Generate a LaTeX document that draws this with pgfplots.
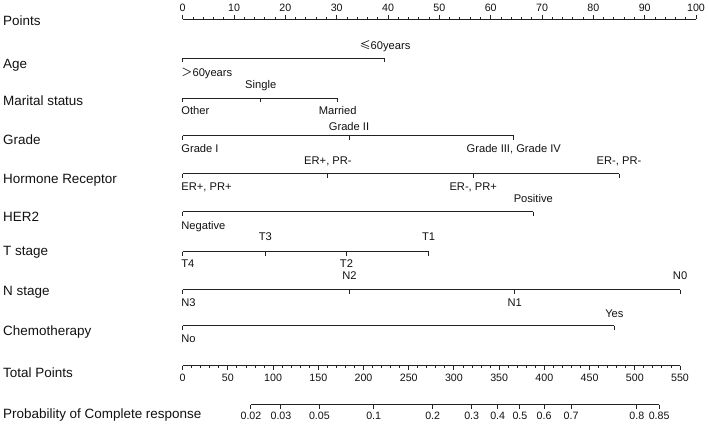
\documentclass[border=0pt]{standalone}
\usepackage{pgfplots}
\usepackage{pgfplotstable}
\pgfplotsset{compat=1.18}
\usepackage{fontspec}
\setmainfont{Liberation Sans}
\newfontfamily\cjk{Noto Sans CJK SC}
\newcommand{\lesixty}{{\cjk ≤}60years}
\newcommand{\gtsixty}{{\cjk ＞}60years}
\definecolor{tc}{HTML}{111111}
\definecolor{lc}{HTML}{222222}
\newcommand\valfont{\fontsize{11.2}{13}\selectfont}
\newcommand\tickfont{\fontsize{10.7}{12}\selectfont}
\newcommand\rowfont{\fontsize{13.5}{16}\selectfont}
\pgfdeclareplotmark{blank}{}
\pgfplotsset{
  lab/.style={scatter, only marks, mark=blank, point meta=explicit symbolic,
    scatter/@post marker code/.code={}},
  labc/.style={lab, scatter/@pre marker code/.code={\node[anchor=base, inner sep=0pt, text=tc, font=\valfont] {\pgfplotspointmeta};}},
  labl/.style={lab, scatter/@pre marker code/.code={\node[anchor=base west, inner sep=0pt, xshift=-1.5bp, text=tc, font=\valfont] {\pgfplotspointmeta};}},
  labt/.style={lab, scatter/@pre marker code/.code={\node[anchor=base, inner sep=0pt, text=tc, font=\tickfont] {\pgfplotspointmeta};}},
  labr/.style={lab, scatter/@pre marker code/.code={\node[anchor=base west, inner sep=0pt, text=tc, font=\rowfont] {\pgfplotspointmeta};}},
  ln/.style={color=lc, line width=1bp, mark=|, mark options={solid, line width=1bp, yshift=-2bp, mark size=2bp}},
  tkup/.style={color=lc, line width=1bp, mark=|, mark options={solid, line width=1bp, yshift=2.25bp, mark size=2.25bp}},
  tkupm/.style={draw=none, color=lc, mark=|, mark options={solid, line width=0.9bp, yshift=1.1bp, mark size=1.1bp}},
  tkdn/.style={color=lc, line width=1bp, mark=|, mark options={solid, line width=1bp, yshift=-2.25bp, mark size=2.25bp}},
  tkdnm/.style={draw=none, color=lc, mark=|, mark options={solid, line width=0.9bp, yshift=-1.1bp, mark size=1.1bp}},
}
% Points scale: major ticks
\pgfplotstableread{
pt lab
0 0
10 10
20 20
30 30
40 40
50 50
60 60
70 70
80 80
90 90
100 100
}\ptsmajor
\pgfplotstableread{
pt row
2 0
4 0
6 0
8 0
12 0
14 0
16 0
18 0
22 0
24 0
26 0
28 0
32 0
34 0
36 0
38 0
42 0
44 0
46 0
48 0
52 0
54 0
56 0
58 0
62 0
64 0
66 0
68 0
72 0
74 0
76 0
78 0
82 0
84 0
86 0
88 0
92 0
94 0
96 0
98 0
}\ptsminor
% Total points scale
\pgfplotstableread{
t lab
0 0
50 50
100 100
150 150
200 200
250 250
300 300
350 350
400 400
450 450
500 500
550 550
}\totmajor
\pgfplotstableread{
t row
10 0
20 0
30 0
40 0
60 0
70 0
80 0
90 0
110 0
120 0
130 0
140 0
160 0
170 0
180 0
190 0
210 0
220 0
230 0
240 0
260 0
270 0
280 0
290 0
310 0
320 0
330 0
340 0
360 0
370 0
380 0
390 0
410 0
420 0
430 0
440 0
460 0
470 0
480 0
490 0
510 0
520 0
530 0
540 0
}\totminor
% Probability versus total points
\pgfplotstableread{
p tp
0.02 75.5
0.03 108.7
0.05 151.2
0.1 211.2
0.2 276.5
0.3 319.6
0.4 348.4
0.5 373.0
0.6 399.6
0.7 429.5
0.8 502.2
0.85 526.9
}\prob
\newcommand\tps{0.17615}
\begin{document}
\begin{tikzpicture}
\begin{axis}[
  scale only axis, width=709bp, height=424bp,
  xmin=-35.59, xmax=102.53, ymin=0, ymax=424, y dir=reverse,
  hide axis, clip=false,
]
% row labels
\addplot[labr] coordinates {
 (-35,26)[Points] (-35,68.3)[Age] (-35,106)[Marital status] (-35,144)[Grade]
 (-35,183.3)[Hormone Receptor] (-35,221.7)[HER2] (-35,255.7)[T stage]
 (-35,295)[N stage] (-35,335)[Chemotherapy] (-35,377)[Total Points]
 (-35,418)[Probability of Complete response]};
% Points axis
\addplot[tkup] table[x=pt, y expr=19.5] {\ptsmajor};
\addplot[tkupm] table[x=pt, y expr=19.5] {\ptsminor};
\addplot[labt] table[x=pt, y expr=12, meta=lab] {\ptsmajor};
% Age
\addplot[ln] coordinates {(0,58.5) (39.4,58.5)};
\addplot[labc] coordinates {(39.4,50)[\lesixty]};
\addplot[labl] coordinates {(0,77)[\gtsixty]};
% Marital status
\addplot[ln] coordinates {(0,98.5) (15.2,98.5) (30.2,98.5)};
\addplot[labc] coordinates {(15.2,88.3)[Single] (30.2,115)[Married]};
\addplot[labl] coordinates {(0,115)[Other]};
% Grade
\addplot[ln] coordinates {(0,135.5) (32.4,135.5) (64.5,135.5)};
\addplot[labc] coordinates {(32.4,130)[Grade II] (64.5,152.7)[Grade III, Grade IV]};
\addplot[labl] coordinates {(0,152.7)[Grade I]};
% Hormone receptor
\addplot[ln] coordinates {(0,173.5) (28.3,173.5) (56.6,173.5) (85.0,173.5)};
\addplot[labc] coordinates {(28.3,164)[ER+, PR-] (85.0,164)[ER-, PR-] (56.6,190)[ER-, PR+]};
\addplot[labl] coordinates {(0,190)[ER+, PR+]};
% HER2
\addplot[ln] coordinates {(0,211.5) (68.3,211.5)};
\addplot[labc] coordinates {(68.3,202.3)[Positive]};
\addplot[labl] coordinates {(0,229.3)[Negative]};
% T stage
\addplot[ln] coordinates {(0,251.5) (16.1,251.5) (31.9,251.5) (47.9,251.5)};
\addplot[labc] coordinates {(16.1,240.7)[T3] (47.9,240.7)[T1] (31.9,267.3)[T2]};
\addplot[labl] coordinates {(0,267.3)[T4]};
% N stage
\addplot[ln] coordinates {(0,289.5) (32.5,289.5) (64.7,289.5) (96.9,289.5)};
\addplot[labc] coordinates {(32.5,279.3)[N2] (96.9,279.3)[N0] (64.7,306)[N1]};
\addplot[labl] coordinates {(0,306)[N3]};
% Chemotherapy
\addplot[ln] coordinates {(0,325.5) (84.1,325.5)};
\addplot[labc] coordinates {(84.1,317.3)[Yes]};
\addplot[labl] coordinates {(0,342.7)[No]};
% Total points axis
\addplot[tkdn] table[x expr=\thisrow{t}*\tps, y expr=365.5] {\totmajor};
\addplot[tkdnm] table[x expr=\thisrow{t}*\tps, y expr=365.5] {\totminor};
\addplot[labt] table[x expr=\thisrow{t}*\tps, y expr=381.5, meta=lab] {\totmajor};
% Probability axis
\addplot[tkdn] table[x expr=\thisrow{tp}*\tps, y expr=404.5] {\prob};
\addplot[labt] table[x expr=\thisrow{tp}*\tps, y expr=419, meta=p] {\prob};
\end{axis}
\pgfresetboundingbox
\path (current axis.south west) rectangle (current axis.north east);
\end{tikzpicture}
\end{document}
